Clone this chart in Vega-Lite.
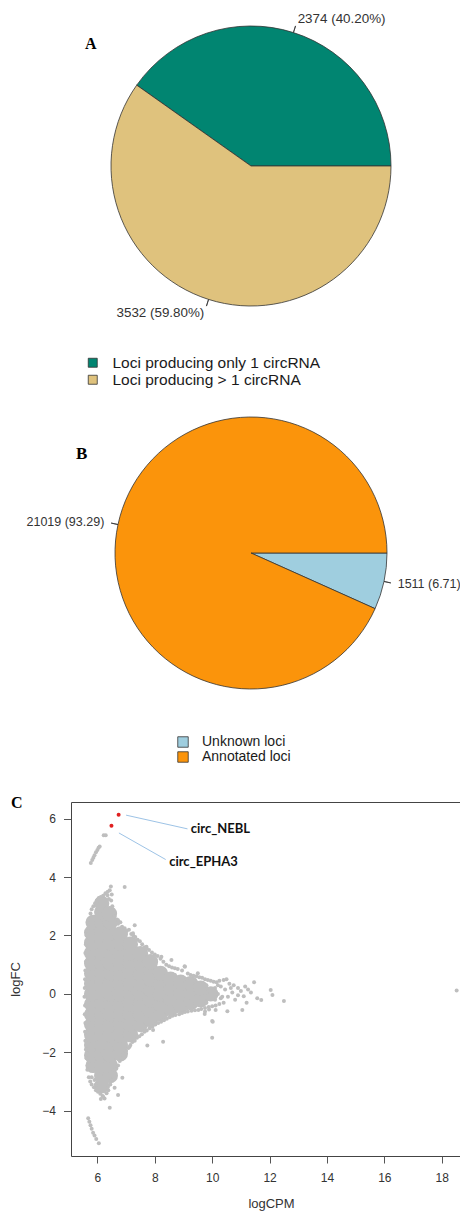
{
"$schema": "https://vega.github.io/schema/vega-lite/v6.json",
"padding": {"left": 9, "top": 0, "right": 0, "bottom": 0},
"spacing": 71,
"bounds": "flush",
"resolve": {"scale": {"color": "independent", "theta": "independent"}, "legend": {"color": "independent"}},
"config": {"view": {"stroke": null}, "font": "Liberation Sans"},
"datasets": {
"pieA": [{"cat": "Loci producing only 1 circRNA", "pct": 40.20, "ord": 1}, {"cat": "Loci producing > 1 circRNA", "pct": 59.80, "ord": 2}],
"labA": [{"mid": 20.10, "label": "2374 (40.20%)", "side": "r"}, {"mid": 70.10, "label": "3532 (59.80%)", "side": "l"}],
"pieB": [{"cat": "Unknown loci", "pct": 6.71, "ord": 1}, {"cat": "Annotated loci", "pct": 93.29, "ord": 2}],
"labB": [{"mid": 3.355, "label": "1511 (6.71)", "side": "r"}, {"mid": 53.355, "label": "21019 (93.29)", "side": "l"}],
"core": [
{"x":5.85,"y":-2.45},{"x":5.8,"y":-2.1},{"x":5.8,"y":-1.75},{"x":5.8,"y":-1.4},{"x":5.8,"y":-1.05},{"x":5.8,"y":-0.7},{"x":5.8,"y":-0.35},{"x":5.8,"y":0},{"x":5.8,"y":0.35},{"x":5.8,"y":0.7},{"x":5.8,"y":1.05},{"x":5.8,"y":1.4},{"x":5.8,"y":1.75},{"x":5.8,"y":2.1},{"x":5.85,"y":2.45},
{"x":6.15,"y":-3.15},{"x":6.15,"y":-2.8},{"x":6.15,"y":-2.45},{"x":6.15,"y":-2.1},{"x":6.15,"y":-1.75},{"x":6.15,"y":-1.4},{"x":6.15,"y":-1.05},{"x":6.15,"y":-0.7},{"x":6.15,"y":-0.35},{"x":6.15,"y":0},{"x":6.15,"y":0.35},{"x":6.15,"y":0.7},{"x":6.15,"y":1.05},{"x":6.15,"y":1.4},{"x":6.15,"y":1.75},{"x":6.15,"y":2.1},{"x":6.15,"y":2.45},{"x":6.15,"y":2.8},{"x":6.15,"y":3.1},
{"x":6.45,"y":-2.8},{"x":6.45,"y":-2.45},{"x":6.45,"y":-2.1},{"x":6.45,"y":-1.75},{"x":6.45,"y":-1.4},{"x":6.45,"y":-1.05},{"x":6.45,"y":-0.7},{"x":6.45,"y":-0.35},{"x":6.45,"y":0},{"x":6.45,"y":0.35},{"x":6.45,"y":0.7},{"x":6.45,"y":1.05},{"x":6.45,"y":1.4},{"x":6.45,"y":1.75},{"x":6.45,"y":2.1},{"x":6.45,"y":2.45},{"x":6.42,"y":2.75},
{"x":6.8,"y":-2.05},{"x":6.8,"y":-1.75},{"x":6.8,"y":-1.4},{"x":6.8,"y":-1.05},{"x":6.8,"y":-0.7},{"x":6.8,"y":-0.35},{"x":6.8,"y":0},{"x":6.8,"y":0.35},{"x":6.8,"y":0.7},{"x":6.8,"y":1.05},{"x":6.8,"y":1.4},{"x":6.8,"y":1.75},{"x":6.8,"y":2.05},
{"x":7.15,"y":-1.4},{"x":7.15,"y":-1.05},{"x":7.15,"y":-0.7},{"x":7.15,"y":-0.35},{"x":7.15,"y":0},{"x":7.15,"y":0.35},{"x":7.15,"y":0.7},{"x":7.15,"y":1.05},{"x":7.15,"y":1.4},{"x":7.15,"y":1.7},
{"x":7.5,"y":-1.05},{"x":7.5,"y":-0.7},{"x":7.5,"y":-0.35},{"x":7.5,"y":0},{"x":7.5,"y":0.35},{"x":7.5,"y":0.7},{"x":7.5,"y":1.05},{"x":7.5,"y":1.38},
{"x":7.85,"y":-0.88},{"x":7.85,"y":-0.55},{"x":7.85,"y":-0.2},{"x":7.85,"y":0.15},{"x":7.85,"y":0.5},{"x":7.85,"y":0.85},{"x":7.85,"y":1.1},
{"x":8.2,"y":-0.68},{"x":8.2,"y":-0.35},{"x":8.2,"y":0},{"x":8.2,"y":0.35},{"x":8.2,"y":0.7},
{"x":8.55,"y":-0.5},{"x":8.55,"y":-0.17},{"x":8.55,"y":0.17},{"x":8.55,"y":0.5},
{"x":8.9,"y":-0.4},{"x":8.9,"y":0},{"x":8.9,"y":0.4},
{"x":9.25,"y":-0.3},{"x":9.25,"y":0.05},{"x":9.25,"y":0.35},
{"x":9.6,"y":-0.2},{"x":9.6,"y":0.2},
{"x":9.95,"y":0}
],
"pts": [
{"x":5.62,"y":-2.2},{"x":5.6,"y":-1.9},{"x":5.58,"y":-1.6},{"x":5.57,"y":-1.3},{"x":5.58,"y":-1.0},{"x":5.56,"y":-0.7},{"x":5.57,"y":-0.4},{"x":5.55,"y":-0.1},{"x":5.56,"y":0.2},{"x":5.57,"y":0.5},{"x":5.58,"y":0.8},{"x":5.6,"y":1.1},{"x":5.58,"y":1.4},{"x":5.6,"y":1.7},{"x":5.62,"y":2.0},{"x":5.65,"y":2.15},{"x":5.7,"y":2.3},{"x":5.66,"y":-2.45},
{"x":5.72,"y":2.55},{"x":5.76,"y":2.75},{"x":5.8,"y":2.9},{"x":5.86,"y":3.0},{"x":5.92,"y":3.1},{"x":5.98,"y":3.2},{"x":6.05,"y":3.28},{"x":6.12,"y":3.32},{"x":6.2,"y":3.36},{"x":6.28,"y":3.45},{"x":6.36,"y":3.5},{"x":6.43,"y":3.55},{"x":6.47,"y":3.68},{"x":6.5,"y":3.4},{"x":6.48,"y":3.2},{"x":6.52,"y":3.0},{"x":6.55,"y":2.8},{"x":6.6,"y":2.65},{"x":6.68,"y":2.55},{"x":6.72,"y":2.4},{"x":6.8,"y":2.45},{"x":6.86,"y":2.3},{"x":6.95,"y":2.25},{"x":7.02,"y":2.15},{"x":7.1,"y":2.2},{"x":7.18,"y":2.05},{"x":7.25,"y":2.0},{"x":7.32,"y":1.95},{"x":7.4,"y":1.85},{"x":7.48,"y":1.8},{"x":7.56,"y":1.7},{"x":7.65,"y":1.6},{"x":7.72,"y":1.55},{"x":7.8,"y":1.5},{"x":7.9,"y":1.42},{"x":8.0,"y":1.35},{"x":8.1,"y":1.3},{"x":8.2,"y":1.2},{"x":8.3,"y":1.1},{"x":8.4,"y":1.0},{"x":8.5,"y":0.95},{"x":8.6,"y":0.9},{"x":8.7,"y":0.88},{"x":8.8,"y":0.85},{"x":8.95,"y":0.8},{"x":9.05,"y":0.93},{"x":9.15,"y":0.7},{"x":9.25,"y":0.65},{"x":9.35,"y":0.62},{"x":9.45,"y":0.6},{"x":9.55,"y":0.57},{"x":9.65,"y":0.55},{"x":9.75,"y":0.5},{"x":9.85,"y":0.48},{"x":9.95,"y":0.45},{"x":10.05,"y":0.42},{"x":10.15,"y":0.4},{"x":10.25,"y":0.45},
{"x":6.4,"y":3.25},{"x":6.35,"y":3.38},{"x":6.72,"y":2.52},{"x":7.3,"y":2.35},{"x":7.24,"y":2.08},{"x":7.71,"y":1.61},{"x":8.23,"y":1.27},{"x":8.58,"y":1.16},{"x":9.04,"y":0.95},{"x":9.5,"y":0.71},{"x":6.95,"y":3.66},
{"x":8.7,"y":0.65},{"x":8.75,"y":-0.6},{"x":9.1,"y":0.5},{"x":9.1,"y":-0.5},{"x":9.4,"y":0.45},{"x":9.4,"y":-0.42},{"x":9.8,"y":0.3},{"x":9.8,"y":-0.3},{"x":10.1,"y":0.2},{"x":10.1,"y":-0.2},{"x":10.2,"y":0},{"x":9.8,"y":0.05},{"x":10.3,"y":0.25},{"x":10.35,"y":-0.1},
{"x":5.65,"y":-2.6},{"x":5.7,"y":-2.85},{"x":5.75,"y":-3.0},{"x":5.8,"y":-3.1},{"x":5.88,"y":-3.2},{"x":5.95,"y":-3.3},{"x":6.02,"y":-3.35},{"x":6.1,"y":-3.42},{"x":6.18,"y":-3.5},{"x":6.25,"y":-3.58},{"x":6.32,"y":-3.4},{"x":6.38,"y":-3.3},{"x":6.45,"y":-3.1},{"x":6.5,"y":-2.95},{"x":6.55,"y":-2.85},{"x":6.6,"y":-2.7},{"x":6.66,"y":-2.55},{"x":6.72,"y":-2.45},{"x":6.78,"y":-2.3},{"x":6.85,"y":-2.15},{"x":6.92,"y":-2.05},{"x":7.0,"y":-1.95},{"x":7.08,"y":-1.85},{"x":7.15,"y":-1.75},{"x":7.22,"y":-1.65},{"x":7.3,"y":-1.6},{"x":7.38,"y":-1.5},{"x":7.46,"y":-1.45},{"x":7.55,"y":-1.38},{"x":7.64,"y":-1.3},{"x":7.72,"y":-1.25},{"x":7.82,"y":-1.18},{"x":7.92,"y":-1.12},{"x":8.02,"y":-1.05},{"x":8.12,"y":-1.0},{"x":8.22,"y":-0.95},{"x":8.32,"y":-0.9},{"x":8.42,"y":-0.85},{"x":8.52,"y":-0.8},{"x":8.62,"y":-0.75},{"x":8.72,"y":-0.72},{"x":8.85,"y":-0.7},{"x":8.95,"y":-0.65},{"x":9.05,"y":-0.62},{"x":9.15,"y":-0.6},{"x":9.28,"y":-0.58},{"x":9.4,"y":-0.56},{"x":9.52,"y":-0.55},{"x":9.62,"y":-0.52},{"x":9.75,"y":-0.48},{"x":9.88,"y":-0.45},{"x":10.0,"y":-0.42},{"x":10.12,"y":-0.4},{"x":10.25,"y":-0.35},{"x":10.4,"y":-0.3},
{"x":5.8,"y":-2.85},{"x":5.9,"y":-2.95},{"x":5.95,"y":-3.1},{"x":6.5,"y":-2.7},
{"x":6.84,"y":-2.09},{"x":6.64,"y":-2.57},{"x":6.37,"y":-3.18},{"x":6.6,"y":-3.21},{"x":6.2,"y":-3.52},{"x":7.94,"y":-1.24},{"x":8.58,"y":-0.73},
{"x":6.43,"y":-3.9},{"x":6.87,"y":-2.87},{"x":6.72,"y":-3.46},{"x":7.74,"y":-1.77},{"x":8.29,"y":-1.64},{"x":10.0,"y":-1.5},{"x":10.02,"y":-0.95},{"x":7.12,"y":-1.81},{"x":9.74,"y":-0.69},{"x":6.12,"y":-3.6},
{"x":5.68,"y":-4.26},{"x":5.72,"y":-4.38},{"x":5.76,"y":-4.5},{"x":5.8,"y":-4.62},{"x":5.85,"y":-4.75},{"x":5.9,"y":-4.85},{"x":5.96,"y":-4.97},{"x":6.05,"y":-5.11},
{"x":5.77,"y":4.48},{"x":5.82,"y":4.58},{"x":5.86,"y":4.66},{"x":5.9,"y":4.75},{"x":5.95,"y":4.85},{"x":6.0,"y":4.93},{"x":6.04,"y":5.0},{"x":6.08,"y":5.05},{"x":6.22,"y":5.43},{"x":6.29,"y":5.43},
{"x":18.52,"y":0.12},{"x":12.5,"y":-0.24},{"x":12.04,"y":0.13},{"x":12.1,"y":-0.04},{"x":11.46,"y":0.4},{"x":11.57,"y":-0.15},{"x":11.71,"y":-0.21},{"x":11.05,"y":-0.55},{"x":10.53,"y":-0.59},{"x":10.12,"y":-0.55},{"x":9.89,"y":-0.53},{"x":9.75,"y":-0.6},{"x":10.0,"y":-0.93},
{"x":10.4,"y":0.48},{"x":10.5,"y":0.5},{"x":10.6,"y":0.35},{"x":10.75,"y":0.3},{"x":10.9,"y":0.2},{"x":11.0,"y":0.1},{"x":11.15,"y":0.25},{"x":11.25,"y":0.15},{"x":10.45,"y":0.15},{"x":10.7,"y":0.05},{"x":10.9,"y":-0.05},{"x":10.55,"y":-0.1},{"x":11.1,"y":-0.08},{"x":10.3,"y":-0.15},{"x":10.2,"y":0.3},{"x":11.35,"y":0.05},{"x":10.8,"y":-0.2},{"x":10.65,"y":0.2},{"x":11.2,"y":-0.3}
],
"hi": [{"x": 6.74, "y": 6.13, "name": "circ_NEBL"}, {"x": 6.49, "y": 5.76, "name": "circ_EPHA3"}],
"lines": [{"x": 7.0, "y": 6.12, "x2": 9.14, "y2": 5.65}, {"x": 6.75, "y": 5.51, "x2": 8.38, "y2": 4.6}],
"labs": [{"x": 9.25, "y": 5.63, "label": "circ_NEBL"}, {"x": 8.5, "y": 4.53, "label": "circ_EPHA3"}]
},
"vconcat": [
{
"width": 360, "height": 332,
"title": {"text": "A", "anchor": "start", "frame": "group", "offset": 0, "dx": 14, "dy": 65, "baseline": "alphabetic", "font": "Liberation Serif", "fontWeight": "bold", "fontSize": 16, "color": "#000"},
"layer": [
{"data": {"name": "pieA"},
 "mark": {"type": "arc", "outerRadius": 140, "stroke": "#333", "strokeWidth": 0.8},
 "encoding": {
  "theta": {"field": "pct", "type": "quantitative", "stack": true, "scale": {"domain": [0, 100], "range": [1.5708, -4.7124]}},
  "order": {"field": "ord"},
  "color": {"field": "cat", "type": "nominal", "scale": {"domain": ["Loci producing only 1 circRNA", "Loci producing > 1 circRNA"], "range": ["#018571", "#DFC27D"]},
   "legend": {"title": null, "orient": "none", "legendX": 14, "legendY": 355, "symbolType": "square", "symbolSize": 81, "symbolStrokeColor": "#333", "symbolStrokeWidth": 0.8, "labelFont": "Liberation Sans", "labelFontSize": 15.5, "labelColor": "#1a1a1a", "labelOffset": 12, "labelLimit": 0, "rowPadding": -2, "padding": 0}}
 }},
{"data": {"name": "labA"},
 "mark": {"type": "arc", "innerRadius": 140, "outerRadius": 147, "stroke": "#333", "strokeWidth": 0.8, "fillOpacity": 0},
 "encoding": {
  "theta": {"field": "mid", "type": "quantitative", "stack": null, "scale": {"domain": [0, 100], "range": [1.5708, -4.7124]}},
  "theta2": {"field": "mid"}
 }},
{"data": {"name": "labA"},
 "transform": [{"filter": "datum.side == 'r'"}],
 "mark": {"type": "text", "radius": 154, "align": "left", "baseline": "middle", "font": "Liberation Sans", "fontSize": 13.4, "color": "#333"},
 "encoding": {
  "theta": {"field": "mid", "type": "quantitative", "stack": null, "scale": {"domain": [0, 100], "range": [1.5708, -4.7124]}},
  "text": {"field": "label"}
 }},
{"data": {"name": "labA"},
 "transform": [{"filter": "datum.side == 'l'"}],
 "mark": {"type": "text", "radius": 154, "align": "right", "baseline": "middle", "font": "Liberation Sans", "fontSize": 13.4, "color": "#333"},
 "encoding": {
  "theta": {"field": "mid", "type": "quantitative", "stack": null, "scale": {"domain": [0, 100], "range": [1.5708, -4.7124]}},
  "text": {"field": "label"}
 }}
]
},
{
"spacing": 99,
"bounds": "flush",
"resolve": {"scale": {"color": "independent", "theta": "independent"}, "legend": {"color": "independent"}},
"vconcat": [
{
"width": 360, "height": 300,
"title": {"text": "B", "anchor": "start", "frame": "group", "offset": 0, "dx": 5, "dy": 73, "baseline": "alphabetic", "font": "Liberation Serif", "fontWeight": "bold", "fontSize": 17, "color": "#000"},
"layer": [
{"data": {"name": "pieB"},
 "mark": {"type": "arc", "outerRadius": 136, "stroke": "#333", "strokeWidth": 0.8},
 "encoding": {
  "theta": {"field": "pct", "type": "quantitative", "stack": true, "scale": {"domain": [0, 100], "range": [1.5708, 7.854]}},
  "order": {"field": "ord"},
  "color": {"field": "cat", "type": "nominal", "scale": {"domain": ["Unknown loci", "Annotated loci"], "range": ["#9FCEDF", "#FB940B"]},
   "legend": {"title": null, "orient": "none", "legendX": 105, "legendY": 332, "symbolType": "square", "symbolSize": 110, "symbolStrokeColor": "#333", "symbolStrokeWidth": 0.8, "labelFont": "Liberation Sans", "labelFontSize": 14, "labelColor": "#1a1a1a", "labelOffset": 12, "labelLimit": 0, "rowPadding": 1, "padding": 0}}
 }},
{"data": {"name": "labB"},
 "mark": {"type": "arc", "innerRadius": 136, "outerRadius": 143, "stroke": "#333", "strokeWidth": 0.8, "fillOpacity": 0},
 "encoding": {
  "theta": {"field": "mid", "type": "quantitative", "stack": null, "scale": {"domain": [0, 100], "range": [1.5708, 7.854]}},
  "theta2": {"field": "mid"}
 }},
{"data": {"name": "labB"},
 "transform": [{"filter": "datum.side == 'r'"}],
 "mark": {"type": "text", "radius": 150, "align": "left", "baseline": "middle", "font": "Liberation Sans", "fontSize": 12.5, "color": "#333"},
 "encoding": {
  "theta": {"field": "mid", "type": "quantitative", "stack": null, "scale": {"domain": [0, 100], "range": [1.5708, 7.854]}},
  "text": {"field": "label"}
 }},
{"data": {"name": "labB"},
 "transform": [{"filter": "datum.side == 'l'"}],
 "mark": {"type": "text", "radius": 150, "align": "right", "baseline": "middle", "font": "Liberation Sans", "fontSize": 12.5, "color": "#333"},
 "encoding": {
  "theta": {"field": "mid", "type": "quantitative", "stack": null, "scale": {"domain": [0, 100], "range": [1.5708, 7.854]}},
  "text": {"field": "label"}
 }}
]
},
{
"width": 400, "height": 354,
"view": {"stroke": "#444", "strokeWidth": 1},
"title": {"text": "C", "anchor": "start", "frame": "group", "offset": 0, "dx": -60, "dy": 22, "baseline": "alphabetic", "font": "Liberation Serif", "fontWeight": "bold", "fontSize": 16, "color": "#000"},
"encoding": {
 "x": {"field": "x", "type": "quantitative", "scale": {"domain": [5.08, 19.02], "nice": false, "zero": false},
  "axis": {"title": "logCPM", "values": [6, 8, 10, 12, 14, 16, 18], "grid": false, "domain": false, "tickSize": 7, "tickColor": "#555", "labelPadding": 9, "labelFont": "Liberation Sans", "labelFontSize": 12, "labelColor": "#333", "titleFont": "Liberation Sans", "titleFontSize": 13, "titleFontWeight": "normal", "titleColor": "#333", "titlePadding": 14}},
 "y": {"field": "y", "type": "quantitative", "scale": {"domain": [-5.55, 6.57], "nice": false, "zero": false},
  "axis": {"title": "logFC", "values": [-4, -2, 0, 2, 4, 6], "grid": false, "domain": false, "tickSize": 7.5, "tickColor": "#555", "labelPadding": 8, "labelFont": "Liberation Sans", "labelFontSize": 12, "labelColor": "#333", "titleFont": "Liberation Sans", "titleFontSize": 13, "titleFontWeight": "normal", "titleColor": "#333", "titlePadding": 19}}
},
"layer": [
{"data": {"name": "core"}, "mark": {"type": "circle", "size": 235, "color": "#BEBEBE", "opacity": 1}},
{"data": {"name": "pts"}, "mark": {"type": "circle", "size": 16, "color": "#BEBEBE", "opacity": 1}},
{"data": {"name": "lines"}, "mark": {"type": "rule", "color": "#9DC3E6", "strokeWidth": 1},
 "encoding": {"x2": {"field": "x2"}, "y2": {"field": "y2"}}},
{"data": {"name": "hi"}, "mark": {"type": "circle", "size": 16, "color": "#E02020", "opacity": 1}},
{"data": {"name": "labs"}, "mark": {"type": "text", "align": "left", "baseline": "middle", "font": "Lato", "fontWeight": "bold", "fontSize": 13, "color": "#111"},
 "encoding": {"text": {"field": "label"}}}
]
}
]
}
]
}
